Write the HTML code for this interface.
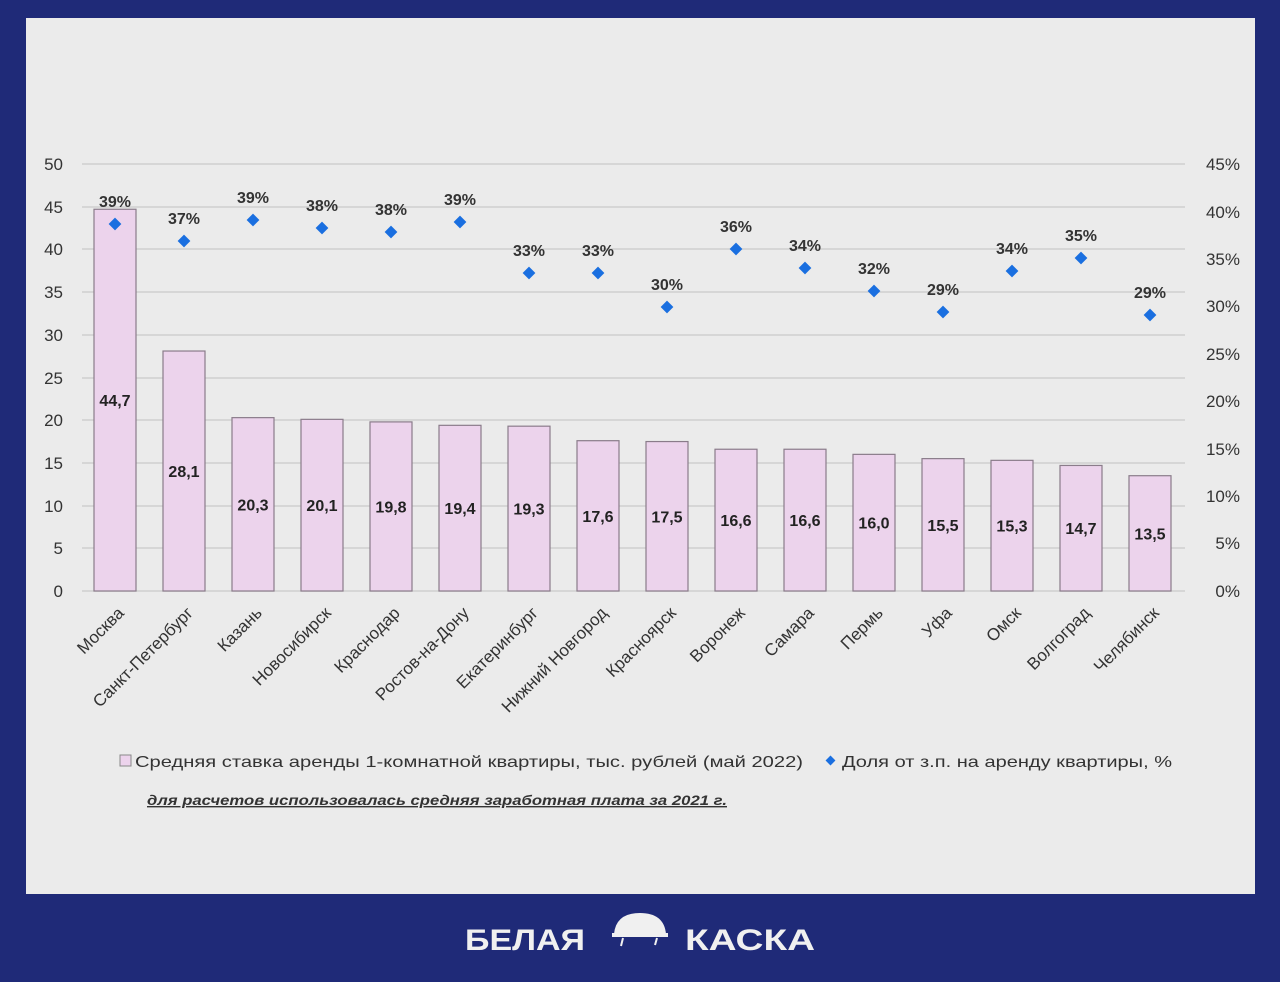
<!DOCTYPE html>
<html><head><meta charset="utf-8"><style>
body{margin:0;width:1280px;height:977px;background:#1f2a78;overflow:hidden;font-family:"Liberation Sans","DejaVu Sans",sans-serif}
</style></head><body>
<svg width="1280" height="977" xmlns="http://www.w3.org/2000/svg" font-family="Liberation Sans, DejaVu Sans, sans-serif">
<rect x="0" y="0" width="1280" height="977" fill="#1f2a78"/>
<rect x="26" y="18" width="1229" height="876" fill="#ebebeb"/>
<g stroke="#cfcfcf" stroke-width="1.5">
<line x1="82" x2="1185" y1="164" y2="164"/><line x1="82" x2="1185" y1="207" y2="207"/>
<line x1="82" x2="1185" y1="249" y2="249"/><line x1="82" x2="1185" y1="292" y2="292"/>
<line x1="82" x2="1185" y1="335" y2="335"/><line x1="82" x2="1185" y1="378" y2="378"/>
<line x1="82" x2="1185" y1="420" y2="420"/><line x1="82" x2="1185" y1="463" y2="463"/>
<line x1="82" x2="1185" y1="506" y2="506"/><line x1="82" x2="1185" y1="548" y2="548"/>
<line x1="82" x2="1185" y1="591" y2="591"/>
</g>
<g font-size="17" fill="#333" text-anchor="end">
<text x="63" y="170">50</text><text x="63" y="213">45</text><text x="63" y="255">40</text><text x="63" y="298">35</text><text x="63" y="341">30</text><text x="63" y="384">25</text><text x="63" y="426">20</text><text x="63" y="469">15</text><text x="63" y="512">10</text><text x="63" y="554">5</text><text x="63" y="597">0</text>
</g>
<g font-size="17" fill="#333" text-anchor="end">
<text x="1240" y="170">45%</text><text x="1240" y="218">40%</text><text x="1240" y="265">35%</text><text x="1240" y="312">30%</text><text x="1240" y="360">25%</text><text x="1240" y="407">20%</text><text x="1240" y="455">15%</text><text x="1240" y="502">10%</text><text x="1240" y="549">5%</text><text x="1240" y="597">0%</text>
</g>
<g id="bars" fill="#ecd3ec" stroke="#8a7c8a" stroke-width="1.2"></g>
<g id="vals" font-size="16" font-weight="bold" fill="#222" text-anchor="middle"></g>
<g id="pts" fill="#1a6fe0"></g>
<g id="pct" font-size="16" font-weight="bold" fill="#333" text-anchor="middle"></g>
<g id="cats" font-size="17" fill="#333" text-anchor="end"></g>
<rect x="120" y="755" width="11" height="11" fill="#ecd3ec" stroke="#888"/>
<text x="135" y="767" font-size="16" fill="#333" textLength="668" lengthAdjust="spacingAndGlyphs">Средняя ставка аренды 1-комнатной квартиры, тыс. рублей (май 2022)</text>
<rect x="827" y="757" width="7" height="7" fill="#1a6fe0" transform="rotate(45 830.5 760.5)"/>
<text x="842" y="767" font-size="16" fill="#333" textLength="330" lengthAdjust="spacingAndGlyphs">Доля от з.п. на аренду квартиры, %</text>
<text x="147" y="805" font-size="14" font-weight="bold" font-style="italic" fill="#333" text-decoration="underline" textLength="580" lengthAdjust="spacingAndGlyphs">для расчетов использовалась средняя заработная плата за 2021 г.</text>
<text x="465" y="950" font-size="30" font-weight="bold" fill="#f0f0f0" textLength="120" lengthAdjust="spacingAndGlyphs">БЕЛАЯ</text>
<path d="M614 934 Q616 913 640 913 Q664 913 666 934 Z" fill="#f0f0f0"/>
<rect x="612" y="933" width="56" height="4" fill="#f0f0f0"/>
<path d="M623 938 L621 946 M657 938 L655 945" stroke="#f0f0f0" stroke-width="2"/>
<text x="685" y="950" font-size="30" font-weight="bold" fill="#f0f0f0" textLength="130" lengthAdjust="spacingAndGlyphs">КАСКА</text>
</svg>
<script>
var names=["Москва","Санкт-Петербург","Казань","Новосибирск","Краснодар","Ростов-на-Дону","Екатеринбург","Нижний Новгород","Красноярск","Воронеж","Самара","Пермь","Уфа","Омск","Волгоград","Челябинск"];
var v=[44.7,28.1,20.3,20.1,19.8,19.4,19.3,17.6,17.5,16.6,16.6,16.0,15.5,15.3,14.7,13.5];
var dy=[224,241,220,228,232,222,273,273,307,249,268,291,312,271,258,315];
var p=[39,37,39,38,38,39,33,33,30,36,34,32,29,34,35,29];
var ns="http://www.w3.org/2000/svg";
function el(g,t,a,txt){var e=document.createElementNS(ns,t);for(var k in a)e.setAttribute(k,a[k]);if(txt)e.textContent=txt;document.getElementById(g).appendChild(e);}
for(var i=0;i<16;i++){var cx=115+i*69,h=v[i]*8.54;
el("bars","rect",{x:cx-21,y:591-h,width:42,height:h});
el("vals","text",{x:cx,y:591-h/2+6},v[i].toFixed(1).replace(".",","));
el("pts","rect",{x:cx-4.5,y:dy[i]-4.5,width:9,height:9,transform:"rotate(45 "+cx+" "+dy[i]+")"});
el("pct","text",{x:cx,y:dy[i]-17},p[i]+"%");
el("cats","text",{x:cx+10,y:614,transform:"rotate(-45 "+(cx+10)+" 614)"},names[i]);}
</script>
</body></html>
